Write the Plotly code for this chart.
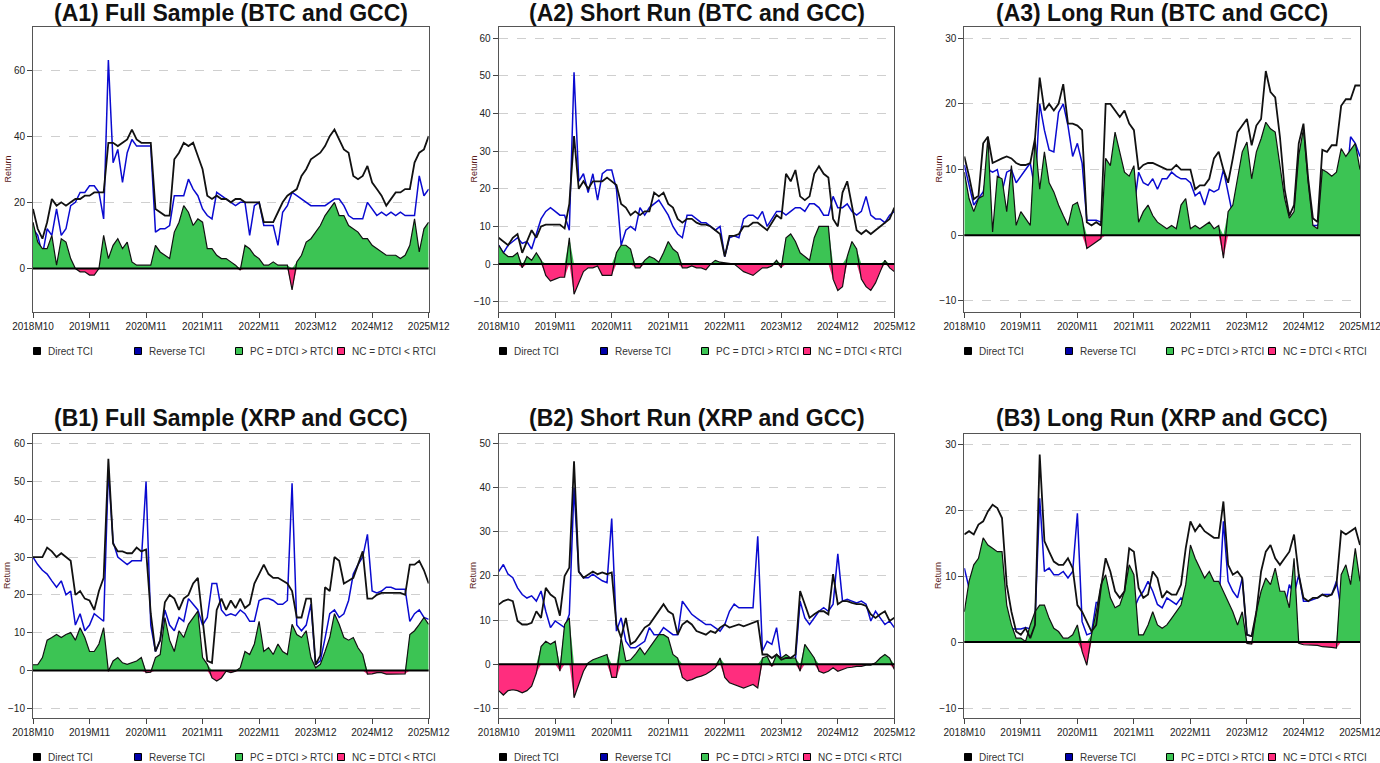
import plotly.graph_objects as go
from plotly.subplots import make_subplots

W, H = 1380, 763

# x axis: monthly observation index, labels every 12 steps
months = list(range(85))
tick_pos = [0, 12, 24, 36, 48, 60, 72, 84]
tick_lbl = ["2018M10", "2019M11", "2020M11", "2021M11", "2022M11", "2023M12", "2024M12", "2025M12"]

titles = ["(A1) Full Sample (BTC and GCC)", "(A2) Short Run (BTC and GCC)", "(A3) Long Run (BTC and GCC)",
          "(B1) Full Sample (XRP and GCC)", "(B2) Short Run (XRP and GCC)", "(B3) Long Run (XRP and GCC)"]
legend_names = ["Direct TCI", "Reverse TCI", "PC = DTCI > RTCI", "NC = DTCI < RTCI"]

# ---- A1 ----
a1_dtci = [18, 12, 9, 14, 21, 19, 20, 19, 20, 21,
           21, 22, 22, 23, 23, 23, 38, 38, 37, 38,
           39, 42, 39, 38, 38, 38, 18, 17, 16, 16,
           33, 35, 38, 37, 38, 34, 30, 22, 21, 22,
           21, 21, 20, 21, 21, 20, 20, 20, 20, 14,
           14, 14, 17, 20, 22, 23, 24, 28, 30, 33,
           34, 35, 37, 40, 42, 39, 36, 35, 28, 27,
           28, 31, 26, 24, 22, 19, 21, 23, 23, 24,
           24, 32, 35, 36, 40]
a1_rtci = [12, 10, 4, 12, 10, 18, 10, 12, 19, 20,
           23, 23, 25, 25, 23, 15, 63, 32, 36, 26,
           35, 39, 37, 37, 37, 37, 11, 12, 12, 13,
           22, 22, 22, 27, 24, 22, 18, 16, 15, 23,
           22, 21, 20, 19, 20, 20, 10, 19, 20, 13,
           13, 13, 7, 17, 19, 23, 22, 21, 20, 19,
           19, 19, 19, 20, 21, 21, 19, 16, 15, 15,
           15, 20, 18, 16, 17, 16, 17, 16, 17, 16,
           16, 16, 28, 22, 24]
a1_net = [14, 8, 6, 6, 10, 1, 9, 8, 3, 0,
          -1, -1, -2, -2, 0, 10, 3, 7, 9, 6,
          8, 2, 1, 1, 1, 1, 7, 5, 4, 3,
          11, 14, 19, 17, 13, 15, 14, 6, 6, 4,
          3, 3, 2, 1, -0.5, 7, 6, 4, 3, 1,
          1, 2, 1, 1, 1, -6.5, 2, 4, 8, 9,
          11, 13, 16, 18, 20, 16, 16, 13, 12, 11,
          9, 9, 7, 6, 5, 4, 4, 4, 3, 4,
          7, 15, 5, 12, 14]

# ---- A2 ----
a2_dtci = [7, 6, 5, 7, 8, 3, 6, 9, 7, 10,
           10.5, 10.5, 10.5, 10.5, 9.5, 16, 34, 20, 22, 20,
           22, 22, 22, 23, 22, 21, 16, 15, 13, 14,
           13, 14, 14, 19, 18, 19, 16, 15, 12, 11,
           12, 12, 11, 10.5, 10.5, 10, 9, 8, 2, 7.5,
           7.5, 8, 10, 10, 11, 11, 10, 9, 11, 13,
           12, 24, 22, 25, 18, 17, 18, 24, 26, 24,
           23, 12, 10, 19, 22, 15, 9, 8, 9, 8,
           9, 10, 11, 12, 15]
a2_rtci = [5, 3, 5, 6, 7, 5.5, 6, 4, 8, 12,
           14, 15, 14, 13, 13, 9, 51, 22, 24, 19,
           24, 17, 24, 25, 25, 20, 5, 9, 10, 9,
           15, 13, 15, 16, 17, 15, 13, 10, 8, 7,
           13, 13, 12, 11, 11, 10, 9, 10, 2, 7,
           7.5, 7, 12, 13, 13, 12, 14, 10, 12, 14,
           14, 13, 14, 15, 15, 14, 16, 16, 15, 13,
           13, 18, 15, 15, 16, 14, 13, 14, 18, 13,
           12, 12, 11, 13, 14]
a2_net = [5, 3, 2, 2, 3, -1, 2, 1, 3, 1,
          -3, -4.5, -4, -3.5, -3.5, 7, -8, -5, -2, -1,
          -1, -0.5, -3, -3, -3, 3, 5, 5, 4, -1,
          -1, 1, 2, 1.5, 0.5, 3, 6, 4, 3, -1,
          -1, -0.5, -1, -1, -1.5, 0, 1, 0.5, 0.3, 0.3,
          0, -1, -2, -2.5, -3, -2, -1, -1, -0.5, 1,
          -1, 7, 8, 6, 3, 2, 1, 7, 10, 10,
          10, -4, -7, -6, 2, 6, 4, -4, -6, -7,
          -5, -2, 1, -1, -2]

# ---- A3 ----
a3_dtci = [12, 9, 5.5, 6, 14, 15, 11, 11.4, 11.7, 12,
           11.7, 11, 10.7, 10.7, 11, 14.7, 24, 19, 20, 19,
           20, 23, 17, 17, 16.7, 16, 2, 1.5, 2, 1.5,
           20, 20, 19, 18, 19, 17, 16, 10, 10.7, 11,
           11, 10.7, 10.4, 10, 10, 10.7, 10, 10, 10, 7,
           7.6, 7.6, 8.6, 11.7, 12.7, 10, 8, 11.7, 15.7, 16.7,
           17.7, 13.7, 16.7, 17.7, 25, 21.8, 21, 15, 7, 3,
           4.6, 14, 17, 8.6, 2.6, 2, 13, 12.7, 13.7, 13.7,
           19.7, 20.7, 20.7, 22.8, 22.8]
a3_rtci = [10.7, 7.6, 4.6, 5.6, 6.6, 10, 9.6, 10, 6.6, 9.6,
           10, 8, 9, 10, 11, 7, 20, 16, 13, 12.7,
           18.7, 20, 16.7, 12, 14, 11, 2.3, 2.3, 2.3, 2,
           3, 4, 3, 4, 5, 4, 4, 9.6, 8, 7.6,
           8.6, 7, 8.6, 8.6, 9.6, 9, 8.6, 8.6, 8, 6,
           6.6, 4.6, 7, 6.6, 7, 10, 6.6, 3, 5, 4,
           3, 5, 4, 3, 8, 6, 5, 4, 2, 1.5,
           1.5, 3, 2, 2, 1.5, 1.5, 3, 3, 4, 3,
           6, 7, 15, 14, 12]
a3_net = [9.6, 5.6, 3.6, 5.6, 6, 15, 0.5, 9, 8.6, 3.6,
          10.6, 1.5, 3.6, 2.6, 1.5, 14.7, 7, 12.7, 8, 6.6,
          4.6, 3, 1.5, 4.6, 5, 2.6, -2, -1.5, -1, -0.5,
          11.7, 10.6, 15.7, 12.7, 9.6, 9, 10.6, 2, 3.6, 4.6,
          3, 2, 1.5, 1, 1.5, 1, 4.6, 5.6, 1, 1.5,
          1, 1.5, 2, 1, 1.5, -3.5, 3.6, 4.6, 8.6, 12.7,
          14.2, 8.6, 12.7, 14.7, 17.2, 16.2, 15.7, 10.6, 5.6, 2.6,
          3.6, 12.2, 16.2, 8, 1.5, 1, 10, 9.6, 9, 9.6,
          13.2, 12, 13, 14, 10]

# ---- B1 ----
b1_dtci = [30, 30, 30, 32.5, 31.5, 30, 31, 30, 29, 20,
           21, 19, 18.5, 16, 21, 24.5, 56, 33.5, 31.5, 31.5,
           31, 31, 32.5, 31.5, 32, 15, 5, 8, 18, 20,
           19, 16, 19, 20, 23, 24.5, 13, 2.5, 2, 16,
           19, 16, 18.5, 16.5, 19, 16.5, 17.5, 23, 25.5, 28,
           25.5, 24.5, 24.5, 23.7, 23, 21, 14, 14, 19, 19,
           1.5, 4, 22, 21, 30, 29, 23, 23.7, 24.5, 28,
           31.5, 19, 19, 20, 20.5, 20.5, 20.5, 20.5, 20.5, 20,
           28, 28, 29, 26.5, 23]
b1_rtci = [30, 28, 26.5, 25.5, 23.7, 22, 23.7, 20, 21, 12,
           15, 10.5, 12, 15, 14, 13, 53, 34, 30, 29,
           28, 29, 29, 29, 50, 12, 5, 8, 16, 12,
           10.5, 14, 13, 19, 17.5, 16, 12, 14, 23, 23,
           16, 14.5, 15, 14.5, 16, 15, 13, 13, 18.5, 19,
           19, 18.5, 17.5, 17.5, 18.5, 49.5, 12, 10.5, 12, 17.5,
           1.5, 2.5, 8.5, 15, 16, 14, 15, 18.5, 25.5, 28,
           30, 36, 21, 20.5, 21, 22, 22, 21.5, 21.5, 21.5,
           13, 15, 16, 14, 13.5]
b1_net = [1.5, 1.5, 3.4, 8, 8.7, 9.5, 8.7, 9.5, 10, 8,
          11.3, 8.7, 5, 5, 7, 11.3, -0.2, 2.5, 3.4, 2,
          1.6, 2, 2.5, 3.4, -0.6, -0.5, 3.4, 4.2, 14, 8,
          5, 10.5, 8.7, 12.2, 14, 15.7, 3.4, 1.6, -2, -2.8,
          -2, -0.2, -0.6, -0.2, 0.7, 5, 4.2, 7, 13, 5,
          6, 4.2, 7, 5, 4.2, 12.2, 9.5, 8.7, 10.5, 3.4,
          0.7, 1.6, 5, 8.7, 15, 12.2, 8.7, 8, 8.7, 6,
          4.2, -1, -0.9, -0.6, -0.6, -1, -1, -1, -1, -0.9,
          9.5, 10.5, 12.2, 14, 12.2]

# ---- B2 ----
b2_dtci = [13.5, 14.3, 14.7, 14.3, 9.8, 9, 9, 9.4, 12, 10.5,
           17.3, 15.8, 15, 11, 20, 21.9, 46, 21, 19.6, 20.4,
           21, 20.4, 20.8, 20.4, 20.8, 9, 6, 10.5, 4.5, 5.2,
           6.7, 8.3, 9, 10.5, 12, 13.6, 12, 11.3, 6.7, 9,
           9.8, 9, 7.5, 7.1, 6.7, 7.5, 7.1, 8.3, 9, 8.3,
           8.6, 9, 8.6, 9, 9.4, 9.8, 2.2, 2.2, 1.4, 2.2,
           1, 1.4, 1.4, 2.2, 16.6, 13.5, 10.5, 11.3, 12, 12,
           11.3, 20.4, 13.6, 14.3, 14.3, 13.9, 13.6, 13.6, 13.2, 11.3,
           10.5, 11.3, 12, 9.8, 10.5]
b2_rtci = [21, 22.6, 20.4, 19.6, 17.3, 15.8, 15, 15.5, 14.3, 16.6,
           12, 8.3, 9.8, 9, 8.3, 11.3, 40, 21, 19.6, 19.6,
           20.4, 19.6, 18.9, 18.5, 33, 7.5, 10.5, 5.2, 3.7, 3.7,
           4.5, 5.2, 8.3, 6.7, 6.7, 8.3, 7.5, 6.7, 6.7, 14.3,
           12.8, 11.3, 10.5, 9.8, 9, 9, 8.3, 7.5, 9, 12,
           13.6, 12.8, 12.8, 12.8, 12.8, 29, 3, 5.2, 4.5, 8.3,
           0.7, 1, 1, 1, 14.3, 10.5, 9, 10.5, 12, 12.8,
           12, 13.6, 25, 14.3, 14.7, 14.3, 13.9, 14.3, 13.6, 9.8,
           12, 10.5, 9, 9.8, 8.3]
b2_net = [-6, -7, -6, -5.8, -6, -6.5, -6, -5, -2, 4,
          5.2, 4.5, 5.2, -1.6, 9, 10.5, -7.6, -4.6, -1.6, 0.3,
          1, 1.4, 1.8, 2.2, -3, -3, 6, 0.7, 1, 2.2,
          3.7, 2.2, 3.7, 5.2, 6.7, 6.7, 6, 2.2, 1.4, -3,
          -3.8, -3.5, -3, -2.7, -2.3, -1.6, -0.8, 1.4, -3, -4.2,
          -4.6, -5, -5.4, -5, -4.6, -5.4, 1.4, 1.8, -0.5, 2.2,
          1.4, 2.2, 1.4, 1.4, -1.6, 4.5, 3, 1.4, -1.6, -2,
          -1.6, -0.8, -1.6, -1.2, -0.8, -0.7, -0.5, -0.5, -0.2, -0.2,
          0.3, 1.4, 2.2, 1.4, -1.2]

# ---- B3 ----
b3_dtci = [16.3, 16.8, 16.3, 17.8, 18.3, 19.8, 20.8, 20.3, 18.8, 8.7,
           4.6, 1.6, 1.1, 2.1, 0.6, 2.6, 28.4, 15.3, 13.7, 12.2,
           11.7, 11.7, 12.7, 11.2, 5.6, 4.6, 3.1, 1.6, 2.6, 8.2,
           12.7, 10.7, 7.7, 6.7, 7.7, 14.2, 13.7, 8.2, 6.7, 7.2,
           10.7, 9.7, 6.7, 7.7, 7.2, 7.2, 8.7, 14.2, 18.3, 16.8,
           17.8, 16.8, 16.3, 15.8, 15.8, 21.3, 11.7, 10.2, 10.7, 9.7,
           1.1, 0.9, 4.6, 10.7, 13.7, 14.7, 12.7, 11.7, 12.7, 13.7,
           16.3, 10.2, 6.7, 6.2, 6.7, 6.7, 7.2, 6.9, 7.2, 8.7,
           16.8, 16.3, 16.8, 17.3, 14.7]
b3_rtci = [11.2, 8.2, 7, 6, 5, 4, 4, 5, 6, 3,
           2, 2, 2, 2.2, 2, 3, 21.8, 10.7, 11.2, 10.2,
           10.2, 10.7, 9.7, 10.7, 19.5, 3.1, 1.1, 1.4, 6, 6,
           5, 5, 4.6, 3.6, 4, 5, 5, 6.7, 7.7, 9.2,
           7.7, 5.7, 5.2, 6.7, 6.2, 5.7, 6.7, 6, 5, 5,
           5, 5, 5, 5, 5, 18.3, 9.2, 7.7, 6.7, 9.7,
           1.1, 0.9, 4, 5, 5, 5, 5, 5, 5, 8.7,
           7.2, 10.2, 6.2, 6.2, 6.4, 6.7, 7.2, 7.2, 7.2, 9.2,
           5, 5, 5, 5, 5]
b3_net = [4.6, 9.2, 11.7, 12.7, 15.8, 14.7, 14.2, 13.7, 13.7, 5.6,
          2.6, 0.6, 0.6, 0.1, 2.6, 4.6, 5.6, 5.6, 3.6, 2.1,
          1.6, 0.6, 0.6, 1.1, 2.6, -1.4, -3.5, 1.1, 4.6, 8.7,
          10.2, 6.7, 5.2, 5.6, 7.7, 11.7, 10.2, 1.1, 1.1, 2.6,
          4.6, 2.6, 2.1, 2.6, 3.6, 4.6, 5.6, 8.7, 14.7, 12.7,
          11.2, 9.7, 10.7, 9.2, 9.2, 7.7, 6.2, 4.6, 2.6, 4.6,
          -0.2, -0.3, 4.6, 7.7, 9.7, 8.7, 11.2, 7.7, 7.7, 5.2,
          12.7, -0.2, -0.4, -0.4, -0.4, -0.5, -0.7, -0.7, -0.8, -0.9,
          10.2, 11.7, 8.7, 14.2, 9.2]

dtci_all = [a1_dtci, a2_dtci, a3_dtci, b1_dtci, b2_dtci, b3_dtci]
rtci_all = [a1_rtci, a2_rtci, a3_rtci, b1_rtci, b2_rtci, b3_rtci]
net_all = [a1_net, a2_net, a3_net, b1_net, b2_net, b3_net]

y_ranges = [[-13, 73], [-12.6, 63], [-11.6, 31.7], [-12.6, 62.7], [-12.2, 52.3], [-11.5, 31.6]]
y_dticks = [20, 10, 10, 10, 10, 10]

BLACK = "#111111"
BLUE = "#0a0ad0"
GREEN = "#3cc454"
PINK = "#ff2d7e"
swatch_colors = ["#000000", "#0000aa", GREEN, PINK]
FONT = "Arial, Liberation Sans, sans-serif"

ML, MR, MT, MB = 33, 20, 27, 45
PW, PH = W - ML - MR, H - MT - MB


def px_x(px):
    return (px - ML) / PW


def px_y(py):
    return (H - MB - py) / PH


fig = make_subplots(rows=2, cols=3, horizontal_spacing=70 / PW, vertical_spacing=122 / PH)

col_left = [33, 499, 964]
col_right = [429, 894, 1360]
row_title_y = [13, 418]
row_legend_y = [351, 757]
row_mid_y = [169.5, 576]
swatch_off = [4, 105, 206, 308]

for i in range(6):
    r, c = i // 3 + 1, i % 3 + 1
    net = net_all[i]
    pos = [v if v > 0 else 0 for v in net]
    neg = [v if v < 0 else 0 for v in net]

    fig.add_trace(go.Scatter(x=months, y=rtci_all[i], mode="lines", line=dict(color=BLUE, width=1.5),
                             showlegend=False, hoverinfo="skip"), row=r, col=c)
    fig.add_trace(go.Scatter(x=months, y=pos, mode="lines", line=dict(width=0), fill="tozeroy",
                             fillcolor=GREEN, showlegend=False, hoverinfo="skip"), row=r, col=c)
    fig.add_trace(go.Scatter(x=months, y=neg, mode="lines", line=dict(width=0), fill="tozeroy",
                             fillcolor=PINK, showlegend=False, hoverinfo="skip"), row=r, col=c)
    fig.add_trace(go.Scatter(x=months, y=net, mode="lines", line=dict(color=BLACK, width=1.2),
                             showlegend=False, hoverinfo="skip"), row=r, col=c)
    fig.add_trace(go.Scatter(x=months, y=dtci_all[i], mode="lines", line=dict(color=BLACK, width=1.8),
                             showlegend=False, hoverinfo="skip"), row=r, col=c)

    fig.update_xaxes(range=[0, 84], tickmode="array", tickvals=tick_pos, ticktext=tick_lbl,
                     ticks="outside", ticklen=5, tickcolor="#444444", showgrid=False, zeroline=False,
                     showline=True, linecolor="#555555", linewidth=1, mirror=True, automargin=False,
                     ticklabeloverflow="allow",
                     tickfont=dict(family=FONT, size=10, color="#222222"), row=r, col=c)
    fig.update_yaxes(range=y_ranges[i], dtick=y_dticks[i], tick0=0, ticks="outside", ticklen=5,
                     tickcolor="#444444", showgrid=True, gridcolor="#cfcfcf", griddash="dash",
                     gridwidth=1, zeroline=False, showline=True, linecolor="#555555", automargin=False,
                     linewidth=1, mirror=True, tickfont=dict(family=FONT, size=10, color="#222222"),
                     row=r, col=c)
    fig.add_hline(y=0, line=dict(color="#000000", width=2), layer="above", row=r, col=c)

    cx = (col_left[c - 1] + col_right[c - 1]) / 2
    fig.add_annotation(text="<b>%s</b>" % titles[i], xref="paper", yref="paper",
                       x=px_x(cx), y=px_y(row_title_y[r - 1]), xanchor="center", yanchor="middle",
                       showarrow=False, font=dict(family=FONT, size=23, color="#111111"))
    fig.add_annotation(text="Return", textangle=-90, xref="paper", yref="paper",
                       x=px_x(col_left[c - 1] - 26), y=px_y(row_mid_y[r - 1]),
                       xanchor="center", yanchor="middle", showarrow=False,
                       font=dict(family=FONT, size=9, color="#5a1a1a"))

    # legend row under each panel: square swatch + label
    ly = row_legend_y[r - 1]
    for k in range(4):
        sx = col_left[c - 1] + swatch_off[k]
        fig.add_shape(type="rect", xref="paper", yref="paper",
                      x0=px_x(sx - 3.5), x1=px_x(sx + 3.5), y0=px_y(ly + 3.5), y1=px_y(ly - 3.5),
                      fillcolor=swatch_colors[k], line=dict(color="#000000", width=1))
        fig.add_annotation(text=legend_names[k], xref="paper", yref="paper",
                           x=px_x(sx + 9), y=px_y(ly), xanchor="left", yanchor="middle",
                           showarrow=False, font=dict(family=FONT, size=10, color="#333333"))

fig.update_layout(width=W, height=H, margin=dict(l=ML, r=MR, t=MT, b=MB, autoexpand=False),
                  showlegend=False, paper_bgcolor="white", plot_bgcolor="white", font=dict(family=FONT))

# drop the default page margin so the figure sits at the window's top-left corner
fig.write_html("out.html", config={"displayModeBar": False},
               post_script="document.body.style.margin='0';document.body.style.overflow='hidden';")
